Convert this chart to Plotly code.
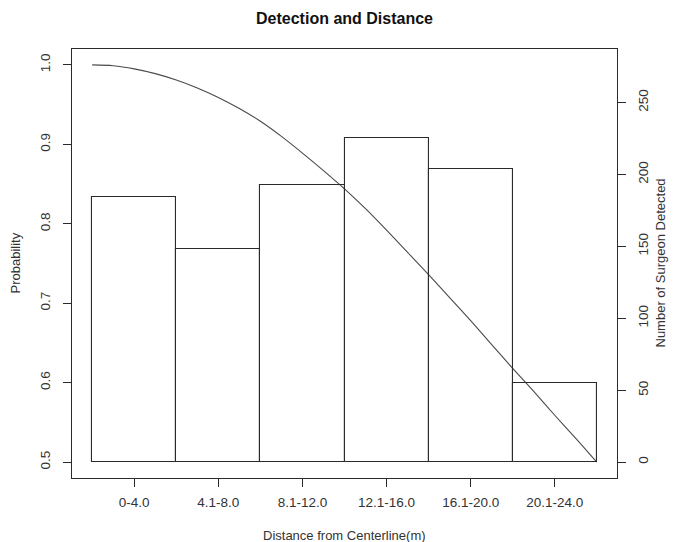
import plotly.graph_objects as go

# Data
categories = ["0-4.0", "4.1-8.0", "8.1-12.0", "12.1-16.0", "16.1-20.0", "20.1-24.0"]
bin_centers = [2, 6, 10, 14, 18, 22]          # metres, bin width 4
counts = [184, 148, 193, 225, 204, 55]

curve_dist = [0, 1, 2, 3, 4, 5, 6, 7, 8, 9, 10, 11, 12,
              13, 14, 15, 16, 17, 18, 19, 20, 21, 22, 23, 24]
curve_prob = [1.000, 0.999, 0.995, 0.989, 0.981, 0.971, 0.959, 0.945, 0.929,
              0.910, 0.889, 0.867, 0.844, 0.819, 0.792, 0.764, 0.736, 0.707,
              0.678, 0.648, 0.618, 0.589, 0.559, 0.530, 0.500]

prob_ticks = [0.5, 0.6, 0.7, 0.8, 0.9, 1.0]
count_ticks = [0, 50, 100, 150, 200, 250]

LINE = "#2a2a2a"
TEXT = "#333333"
FONT = "Liberation Sans, Arial, sans-serif"

W, H = 680, 542
ML, MR, MT, MB = 72, 63, 49, 64
PW = W - ML - MR
PH = H - MT - MB


def px_x(px):
    return (px - ML) / PW


def px_y(py):
    return (H - MB - py) / PH


fig = go.Figure()

fig.add_trace(go.Bar(
    x=bin_centers, y=counts, width=4,
    marker=dict(color="rgba(0,0,0,0)", line=dict(color=LINE, width=1.1)),
    yaxis="y2", showlegend=False, hoverinfo="skip",
))

fig.add_trace(go.Scatter(
    x=curve_dist, y=curve_prob, mode="lines",
    line=dict(color="#4a4a4a", width=1.1, shape="spline", smoothing=0.8),
    yaxis="y", showlegend=False, hoverinfo="skip",
))

axis_common = dict(
    showgrid=False, zeroline=False, showline=True, linecolor=LINE, linewidth=1,
    ticks="outside", ticklen=8, tickwidth=1, tickcolor=LINE, automargin=False,
    tickfont=dict(family=FONT, size=13.5, color=TEXT),
)

fig.update_layout(
    width=W, height=H,
    margin=dict(l=ML, r=MR, t=MT, b=MB),
    paper_bgcolor="white", plot_bgcolor="white",
    font=dict(family=FONT, size=13, color=TEXT),
    bargap=0,
    title=dict(text="<b>Detection and Distance</b>", x=0.5, xref="paper",
               y=1 - 18 / H, yref="container", yanchor="middle",
               font=dict(family=FONT, size=16, color="#111111")),
    xaxis=dict(
        **axis_common, mirror=True, range=[-0.96, 24.96],
        tickvals=bin_centers, ticktext=categories, ticklabelstandoff=4,
    ),
    yaxis=dict(
        **axis_common, range=[0.48, 1.02], tickvals=prob_ticks,
        ticktext=[f"{v:.1f}" for v in prob_ticks], tickangle=-90,
        side="left", ticklabelstandoff=8,
    ),
    yaxis2=dict(
        **axis_common, range=[-11.05, 287.2], tickvals=count_ticks,
        tickangle=-90, side="right", overlaying="y", ticklabelstandoff=6,
    ),
    annotations=[
        dict(text="Distance from Centerline(m)", x=0.5, xref="paper",
             y=px_y(535), yref="paper", xanchor="center", yanchor="middle",
             showarrow=False, font=dict(family=FONT, size=13, color=TEXT)),
        dict(text="Probability", x=px_x(15), xref="paper",
             y=0.5, yref="paper", textangle=-90, xanchor="center",
             yanchor="middle", showarrow=False,
             font=dict(family=FONT, size=13, color=TEXT)),
        dict(text="Number of Surgeon Detected", x=px_x(660), xref="paper",
             y=0.5, yref="paper", textangle=-90, xanchor="center",
             yanchor="middle", showarrow=False,
             font=dict(family=FONT, size=13, color=TEXT)),
    ],
)

fig.write_html(
    "out.html",
    config={"displayModeBar": False},
    post_script="document.body.style.margin='0';document.body.style.padding='0';",
)
